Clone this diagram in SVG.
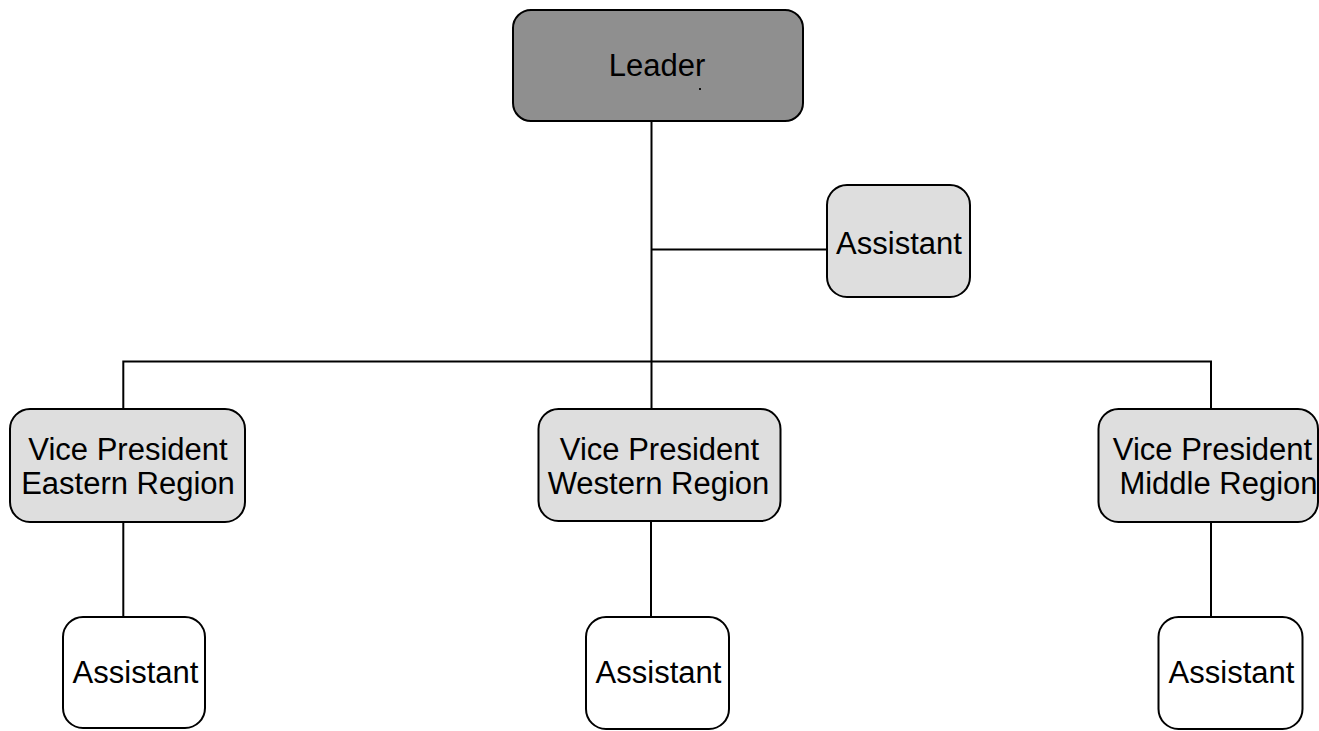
<svg xmlns="http://www.w3.org/2000/svg" width="1319" height="731" viewBox="0 0 1319 731">
  <style>
    .box { stroke: #000; stroke-width: 2; }
    .lead { fill: #8f8f8f; }
    .mid { fill: #dedede; }
    .low { fill: #ffffff; }
    .lbl { font-family: "Liberation Sans", Arial, sans-serif; font-size: 31px; fill: #000; text-anchor: middle; }
    .wire { stroke: #000; stroke-width: 2; fill: none; }
  </style>
  <rect width="1319" height="731" fill="#ffffff"/>

  <!-- connectors -->
  <g id="connectors">
    <path class="wire" d="M651.5 121 V361.5"/>
    <path class="wire" d="M651.5 249.5 H827"/>
    <path class="wire" d="M123.3 409 V361.5 H1211 V409"/>
    <path class="wire" d="M651.5 361.5 V409"/>
    <path class="wire" d="M123.3 522 V617"/>
    <path class="wire" d="M651 521 V617"/>
    <path class="wire" d="M1211 522 V617"/>
  </g>

  <g id="leader">
    <rect class="box lead" x="513" y="10" width="290" height="111" rx="18"/>
    <text class="lbl" x="657" y="76">Leader</text>
    <rect x="699" y="88" width="2" height="2" fill="#111"/>
  </g>

  <g id="assistant-leader">
    <rect class="box mid" x="827" y="185" width="143" height="112" rx="20"/>
    <text class="lbl" x="899" y="254">Assistant</text>
  </g>

  <g id="vp-eastern">
    <rect class="box mid" x="10" y="409" width="235" height="113" rx="20"/>
    <text class="lbl" x="128" y="460">Vice President</text>
    <text class="lbl" x="128" y="493.5">Eastern Region</text>
  </g>

  <g id="vp-western">
    <rect class="box mid" x="538.5" y="409" width="242" height="112" rx="20"/>
    <text class="lbl" x="659.5" y="460">Vice President</text>
    <text class="lbl" x="658.5" y="493.5">Western Region</text>
  </g>

  <g id="vp-middle">
    <rect class="box mid" x="1098.5" y="409" width="219.5" height="113" rx="20"/>
    <text class="lbl" x="1212.5" y="460">Vice President</text>
    <text class="lbl" x="1218.5" y="493.5">Middle Region</text>
  </g>

  <g id="assistant-eastern">
    <rect class="box low" x="63" y="617" width="142" height="111" rx="20"/>
    <text class="lbl" x="135.5" y="683">Assistant</text>
  </g>

  <g id="assistant-western">
    <rect class="box low" x="586" y="617" width="143" height="112" rx="20"/>
    <text class="lbl" x="658.5" y="683">Assistant</text>
  </g>

  <g id="assistant-middle">
    <rect class="box low" x="1158.5" y="617" width="144" height="112" rx="20"/>
    <text class="lbl" x="1231.5" y="683">Assistant</text>
  </g>
</svg>
